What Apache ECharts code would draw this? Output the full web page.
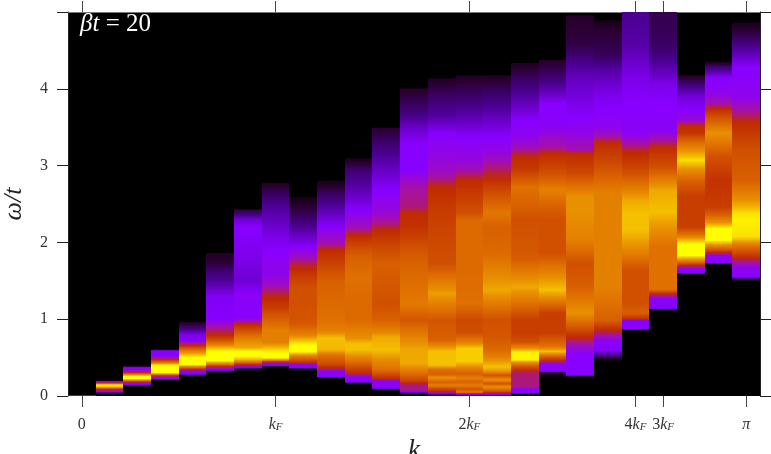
<!DOCTYPE html>
<html><head><meta charset="utf-8">
<style>html,body{margin:0;background:#fff}#c{width:771px;height:454px}</style>
<script src="https://cdn.jsdelivr.net/npm/echarts@6/dist/echarts.min.js"></script>
</head><body><div id="c"></div>
<script>
// [omega/t, spectral weight level 0..10] read per momentum column
const k00=[[0,4],[0.02,0]];
const k01=[[.035,0],[.05,3],[.09,5],[.12,9],[.135,10],[.15,9],[.17,5],[.19,3],[.205,0]];
const k02=[[.13,0],[.15,3],[.18,4.5],[.2,7],[.225,10],[.255,10],[.285,7],[.305,5],[.33,3.5],[.37,3],[.395,0]];
const k03=[[.205,0],[.225,3],[.26,4.5],[.28,7],[.305,10],[.40,10],[.43,7.5],[.47,5.2],[.5,4],[.52,3],[.59,3],[.61,0]];
const k04=[[.26,0],[.285,3],[.32,3.2],[.35,5],[.38,7.5],[.41,10],[.5,10],[.55,8.5],[.6,7],[.65,5.2],[.69,4.2],[.72,3],[.8,2.8],[.88,1.8],[.96,.8],[.97,0]];
const k05=[[.315,0],[.335,3],[.36,3.5],[.385,5],[.42,7.5],[.46,10],[.58,10],[.62,9],[.67,7.5],[.73,6],[.79,5],[.9,4],[1.0,3],[1.3,2.9],[1.45,2.3],[1.64,1.6],[1.75,1],[1.86,.8],[1.87,0]];
const k06=[[.35,0],[.365,3],[.385,3.2],[.41,5],[.44,7],[.48,9],[.52,10],[.58,10],[.63,8.5],[.7,8],[.78,7],[.85,6],[.93,5],[.97,4],[1.02,3],[1.3,3.1],[1.5,2.6],[1.77,2.8],[2.2,3],[2.3,2.6],[2.42,1.2],[2.44,0]];
const k07=[[.38,0],[.39,3],[.42,3.2],[.445,5],[.47,8],[.5,10],[.56,10],[.62,9],[.7,7.5],[.85,7.5],[1.0,6.5],[1.15,5.5],[1.27,5],[1.35,4.5],[1.45,3.7],[1.6,3.2],[1.73,3.2],[2.07,2.8],[2.29,2.4],[2.5,2],[2.7,1.2],[2.77,.8],[2.78,0]];
const k08=[[.35,0],[.365,3],[.41,3.2],[.43,5],[.47,6],[.52,7.5],[.58,10],[.66,10],[.72,9],[.8,7.5],[.95,6.2],[1.2,6],[1.4,6],[1.55,5.5],[1.65,5],[1.72,4.6],[1.8,3.8],[1.94,3],[2.16,2.2],[2.42,1.2],[2.59,.5],[2.6,0]];
const k09=[[.235,0],[.25,3],[.33,3.2],[.36,4.8],[.4,5.6],[.53,7],[.6,8.8],[.75,9],[.85,7.5],[.99,7],[1.2,6.8],[1.5,6.5],[1.73,5.6],[1.9,5],[1.99,3.9],[2.2,3],[2.42,2.3],[2.64,1.5],[2.8,.5],[2.81,0]];
const k10=[[.165,0],[.18,3],[.26,3.2],[.29,5],[.36,5.7],[.45,7],[.6,9],[.68,9],[.75,8],[.99,6.8],[1.3,6.8],[1.55,7],[1.81,6.5],[2.09,5],[2.2,3.8],[2.42,3],[2.68,2.3],[2.94,1.7],[3.09,.6],[3.1,0]];
const k11=[[.08,0],[.1,3],[.2,3.2],[.225,5],[.29,6],[.35,7],[.46,7.8],[.6,9],[.77,8.5],[.85,7.5],[1.0,6.5],[1.2,6],[1.72,6.5],[2.16,5],[2.22,4.4],[2.38,3.5],[2.68,3],[2.98,2.4],[3.24,1.8],[3.49,1],[3.5,0]];
const k12=[[.03,0],[.05,3],[.08,4.2],[.14,4.2],[.19,5.5],[.3,7],[.42,8.5],[.6,8.5],[.73,7.8],[.99,6.2],[1.2,7.3],[1.77,6.5],[2.2,5.2],[2.38,5],[2.46,4.3],[2.72,4],[2.94,3],[3.28,3],[3.5,2.5],[3.72,1.7],[4.0,.9],[4.01,0]];
const k13=[[0,0],[.03,3],[.06,5],[.1,6],[.14,7.5],[.18,6.5],[.24,8],[.28,6.5],[.34,6.8],[.4,9],[.58,9],[.73,6.5],[.99,6.2],[1.33,8.3],[1.72,6],[2.38,5.5],[2.72,5],[2.85,4],[2.94,3.7],[3.07,3.4],[3.42,3],[3.63,2.2],[3.89,1.6],[4.13,.8],[4.14,0]];
const k14=[[0,0],[.02,3],[.05,7.5],[.09,6],[.14,7.5],[.19,6.5],[.23,7.5],[.29,6.5],[.36,7.5],[.45,9.2],[.62,9.2],[.7,7.5],[.82,6],[.99,5.8],[1.2,7],[1.64,6.8],[2.29,6.8],[2.38,6],[2.81,5],[2.94,3.9],[3.07,3.4],[3.37,3],[3.63,2.3],[3.94,1.5],[4.17,.8],[4.18,0]];
const k15=[[0,0],[.02,3],[.06,6],[.12,8],[.16,6],[.21,8],[.27,6],[.32,8],[.38,9],[.51,7.5],[.6,6.8],[.77,6.2],[.99,6],[1.38,8.5],[1.86,6.8],[2.2,6.5],[2.38,7.2],[2.9,4.7],[3.03,4],[3.16,3.4],[3.37,3],[3.63,2.4],[3.94,1.6],[4.17,.8],[4.18,0]];
const k16=[[.025,0],[.04,3],[.09,3],[.12,4.2],[.2,4.3],[.3,4.3],[.33,5],[.38,6],[.44,8],[.47,9.8],[.57,9.8],[.62,8],[.7,6],[.82,5.5],[.99,5.5],[1.42,8.5],[1.8,6.3],[2.29,6],[2.46,6.5],[2.72,7],[2.95,5.4],[3.11,5],[3.24,3.8],[3.37,3.2],[3.59,3],[3.85,2.3],[4.11,1.6],[4.33,.8],[4.34,0]];
const k17=[[.24,0],[.31,1.2],[.32,3],[.42,3.2],[.46,5],[.5,6],[.58,9],[.65,7],[.82,5.5],[1.08,5.5],[1.38,9],[1.86,6],[2.29,6],[2.46,6.5],[2.68,7.5],[2.9,6],[3.16,5],[3.24,4],[3.37,3.6],[3.5,3.1],[3.81,3],[3.98,2.3],[4.15,1.7],[4.37,.9],[4.38,0]];
const k18=[[.25,0],[.27,3],[.55,3],[.68,4],[.77,5],[1.08,8],[1.42,6.5],[1.72,6],[2.03,7.5],[2.38,8],[2.59,8],[2.9,5.8],[3.16,5],[3.2,4],[3.42,3.3],[3.63,3],[3.89,2.7],[4.15,2.4],[4.37,1.9],[4.59,1.2],[4.95,.9],[4.96,0]];
const k19=[[.46,0],[.52,1.8],[.6,3],[.73,3.2],[.79,4],[.86,5],[.99,6.5],[1.42,7.5],[2.29,7.5],[2.64,7.5],[2.98,6],[3.3,5],[3.37,4],[3.5,3.2],[3.72,3],[3.94,2.8],[4.24,2.2],[4.46,1.4],[4.76,1],[4.89,.5],[4.9,0]];
const k20=[[.86,0],[.87,3],[.99,3.1],[1.0,5],[1.08,6.5],[1.2,6],[1.64,6],[1.95,8],[2.16,9],[2.38,9],[2.55,8.5],[2.9,6],[3.2,4.8],[3.28,4],[3.42,3.1],[3.81,3],[4.15,2.8],[4.59,2.2],[5,2]];
const k21=[[1.13,0],[1.14,3],[1.27,3.1],[1.33,5],[1.39,7],[1.95,7],[2.29,8.5],[2.4,9],[2.68,8.5],[2.98,6],[3.24,5],[3.33,4],[3.46,3.1],[3.81,3],[4.07,2.8],[4.37,2],[4.59,1.5],[5,1.3]];
const k22=[[1.58,0],[1.6,3],[1.66,3.2],[1.7,5],[1.75,7],[1.83,10],[1.98,10],[2.1,7],[2.2,5.5],[2.6,5.5],[2.8,6.5],[2.95,8],[3.07,9.5],[3.2,8],[3.29,7],[3.42,5.3],[3.52,5],[3.59,3.5],[3.72,3],[3.89,2.7],[4.04,1.9],[4.17,.8],[4.18,0]];
const k23=[[1.72,0],[1.73,3],[1.83,3.2],[1.87,5],[1.95,7.5],[2.03,10],[2.18,10],[2.26,8],[2.36,6.5],[2.46,5.5],[2.81,5.2],[3.11,6],[3.42,8],[3.74,5],[3.8,4],[3.95,3.2],[4.14,3],[4.28,1.8],[4.35,.6],[4.36,0]];
const k24=[[1.5,0],[1.55,3],[1.66,3.2],[1.74,4],[1.8,5],[1.95,7],[2.07,9.5],[2.29,9.8],[2.38,9.5],[2.55,8],[2.81,6.5],[3.2,6],[3.56,5],[3.72,4],[3.9,3.2],[4.28,3],[4.55,2],[4.86,.6],[4.87,0]];
const columns=[k00,k01,k02,k03,k04,k05,k06,k07,k08,k09,k10,k11,k12,k13,k14,k15,k16,k17,k18,k19,k20,k21,k22,k23,k24];

const xTicks=[0,7,14,20,21,24];
const xTickLabels=['0','{i|k}{s|F}','2{i|k}{s|F}','4{i|k}{s|F}','3{i|k}{s|F}','{i|π}'];
const palette=[[0,0,0],[42,0,48],[74,0,144],[136,0,255],[165,16,170],[192,42,0],[208,80,0],[224,112,0],[232,144,0],[245,192,0],[255,255,0]];
const SERIF='"Liberation Serif","DejaVu Serif",serif';

function col(v){
  v=Math.max(0,Math.min(10,v));const a=Math.floor(v),b=Math.min(10,a+1),f=v-a;
  const c=palette[a].map((x,i)=>Math.round(x+(palette[b][i]-x)*f));
  return 'rgb('+c.join(',')+')';
}
const cells=columns.map((pts,i)=>[i,pts[0][0],pts[pts.length-1][0]]);

function renderColumn(params,api){
  const i=api.value(0),w0=api.value(1),w1=api.value(2),pts=columns[i];
  const xl=Math.round(api.coord([i-0.5,w0])[0]),xr=Math.round(api.coord([i+0.5,w0])[0]);
  const yb=api.coord([i,w0])[1],yt=api.coord([i,w1])[1];
  const stops=[];
  for(let j=pts.length-1;j>0;j--){
    const [a,va]=pts[j],[b,vb]=pts[j-1];
    for(let s=0;s<6;s++){const f=s/6;
      stops.push({offset:(w1-(a+(b-a)*f))/(w1-w0),color:col(va+(vb-va)*f)});}
  }
  stops.push({offset:1,color:col(pts[0][1])});
  return {type:'rect',shape:{x:xl,y:yt,width:xr-xl,height:yb-yt},
    style:{fill:{type:'linear',x:0,y:0,x2:0,y2:1,colorStops:stops}}};
}
const rich={i:{fontFamily:SERIF,fontStyle:'italic',fontSize:16,color:'#333'},s:{fontFamily:SERIF,fontStyle:'italic',fontSize:11,color:'#333',verticalAlign:'bottom',padding:[5,0,0,0]}};
const line={lineStyle:{color:'#444',width:1}};
const chart=echarts.init(document.getElementById('c'),null,{renderer:'canvas'});
chart.setOption({
  animation:false,backgroundColor:'#fff',
  grid:{left:68,right:11,top:12,bottom:58,backgroundColor:'#000',show:true,borderWidth:0,outerBoundsMode:'none'},
  xAxis:[
   {type:'value',min:-0.5,max:24.5,position:'bottom',splitLine:{show:false},axisLine:{show:false},
    axisTick:{customValues:xTicks,length:11,...line},
    axisLabel:{customValues:xTicks,margin:21,fontFamily:SERIF,fontSize:16,color:'#333',rich,
      formatter:v=>xTickLabels[xTicks.indexOf(v)]},
    name:'k',nameLocation:'middle',nameGap:33,nameTextStyle:{fontFamily:SERIF,fontStyle:'italic',fontSize:27,color:'#222'}},
   {type:'value',min:-0.5,max:24.5,position:'top',splitLine:{show:false},
    axisLine:{show:true,onZero:false,lineStyle:{color:'#777',width:1}},
    axisTick:{customValues:xTicks,length:11,...line},axisLabel:{show:false}}
  ],
  yAxis:[
   {type:'value',min:0,max:5,interval:1,position:'left',splitLine:{show:false},
    axisLine:{show:true,onZero:false,lineStyle:{color:'#222',width:1}},
    axisTick:{length:11,lineStyle:{color:'#222',width:1}},
    axisLabel:{margin:20,fontFamily:SERIF,fontSize:16,color:'#333',formatter:v=>v===5?'':String(v)},
    name:'{w|ω/t}',nameLocation:'middle',nameGap:41,nameRotate:90,
    nameTextStyle:{rich:{w:{fontFamily:SERIF,fontStyle:'italic',fontSize:26,color:'#222'}}}},
   {type:'value',min:0,max:5,interval:1,position:'right',splitLine:{show:false},
    axisLine:{show:true,onZero:false,lineStyle:{color:'#222',width:1}},
    axisTick:{length:11,lineStyle:{color:'#222',width:1}},axisLabel:{show:false}}
  ],
  series:[{type:'custom',coordinateSystem:'cartesian2d',renderItem:renderColumn,data:cells,
    encode:{x:0,y:[1,2]},clip:true,silent:true}],
  graphic:[{type:'text',left:80,top:12,z:100,style:{text:'{i|βt} = 20',fill:'#fff',font:'25px '+SERIF,
    rich:{i:{fontFamily:SERIF,fontStyle:'italic',fontSize:25,fill:'#fff',color:'#fff'}}}}]
});
</script></body></html>
